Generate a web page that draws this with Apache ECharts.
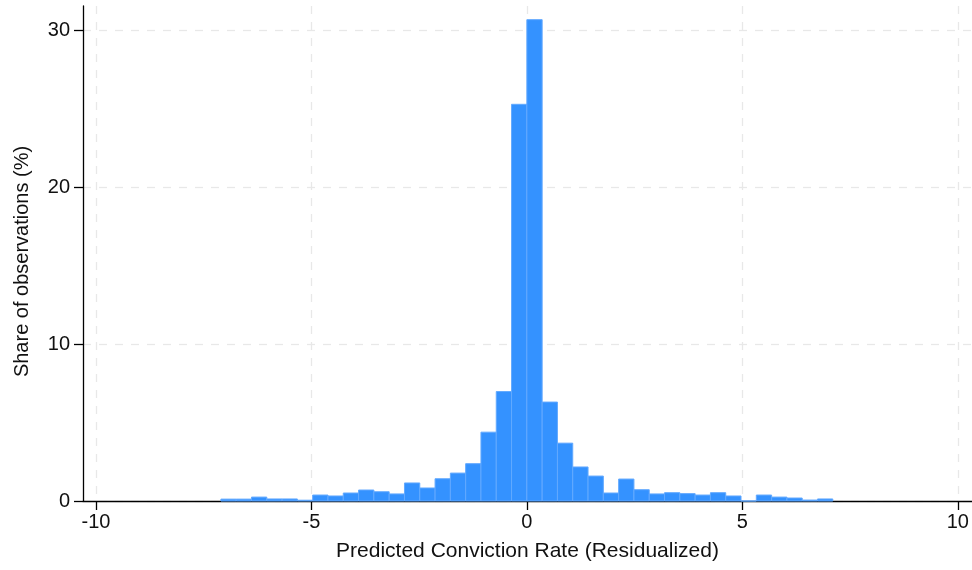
<!DOCTYPE html>
<html>
<head>
<meta charset="utf-8">
<script src="https://cdn.jsdelivr.net/npm/echarts@6/dist/echarts.min.js"></script>
<style>
  html, body { margin: 0; padding: 0; background: #fff; }
  #chart { width: 972px; height: 570px; }
</style>
</head>
<body>
<div id="chart"></div>
<script>
// Histogram of residualized predicted conviction rates
const binStart = -7.1;      // left edge of the first bin
const binWidth = 0.355;     // width of each bin
const shares = [
  0.12, 0.12, 0.25, 0.13, 0.13, 0.05, 0.38, 0.32, 0.51, 0.70,
  0.59, 0.45, 1.15, 0.83, 1.42, 1.78, 2.38, 4.39, 6.98, 25.3,
  30.7, 6.31, 3.69, 2.17, 1.59, 0.51, 1.40, 0.72, 0.45, 0.53,
  0.47, 0.38, 0.53, 0.32, 0.00, 0.38, 0.25, 0.19, 0.06, 0.13
];
const xTicks = [-10, -5, 0, 5, 10];
const yTicks = [0, 10, 20, 30];
const xTitle = 'Predicted Conviction Rate (Residualized)';
const yTitle = 'Share of observations (%)';

const bins = shares.map((v, i) => [binStart + i * binWidth, binStart + (i + 1) * binWidth, v]);

const font = 'Liberation Sans, Arial, Helvetica, sans-serif';
const textColor = '#111';
const gridColor = '#e8e8e8';

const chart = echarts.init(document.getElementById('chart'), null, { renderer: 'canvas' });
chart.setOption({
  animation: false,
  backgroundColor: '#fff',
  grid: { left: 83, right: 0, top: 6, bottom: 69, containLabel: false, outerBoundsMode: 'none' },
  xAxis: {
    type: 'value',
    min: -10.3,
    max: 10.33,
    name: xTitle,
    nameLocation: 'middle',
    nameGap: 40,
    nameTextStyle: { fontFamily: font, fontSize: 21, color: textColor },
    axisLine: { show: true, onZero: false, lineStyle: { color: '#000', width: 1.3 } },
    axisTick: { show: true, length: 9, customValues: xTicks, lineStyle: { color: '#000', width: 1.3 } },
    axisLabel: { customValues: xTicks, fontFamily: font, fontSize: 20, color: textColor, margin: 11 },
    splitLine: { show: true, customValues: xTicks, lineStyle: { color: gridColor, type: [8, 8], width: 1.3 } }
  },
  yAxis: {
    type: 'value',
    min: 0,
    max: 31.57,
    name: yTitle,
    nameLocation: 'middle',
    nameGap: 51,
    nameTextStyle: { fontFamily: font, fontSize: 20, color: textColor, padding: [0, 16, 0, 0] },
    axisLine: { show: true, onZero: false, lineStyle: { color: '#000', width: 1.3 } },
    axisTick: { show: true, length: 9, customValues: yTicks, lineStyle: { color: '#000', width: 1.3 } },
    axisLabel: { customValues: yTicks, fontFamily: font, fontSize: 20, color: textColor, margin: 13 },
    splitLine: { show: true, customValues: yTicks, lineStyle: { color: gridColor, type: [8, 8], width: 1.3 } }
  },
  series: [{
    type: 'custom',
    data: bins,
    encode: { x: [0, 1], y: 2 },
    renderItem: function (params, api) {
      const p0 = api.coord([api.value(0), api.value(2)]);
      const p1 = api.coord([api.value(1), 0]);
      const shape = echarts.graphic.clipRectByRect(
        { x: p0[0], y: p0[1], width: p1[0] - p0[0], height: p1[1] - p0[1] },
        params.coordSys
      );
      return shape && {
        type: 'rect',
        shape: shape,
        style: { fill: '#3492ff', stroke: '#62a9ff', lineWidth: 1 }
      };
    }
  }]
});
</script>
</body>
</html>
